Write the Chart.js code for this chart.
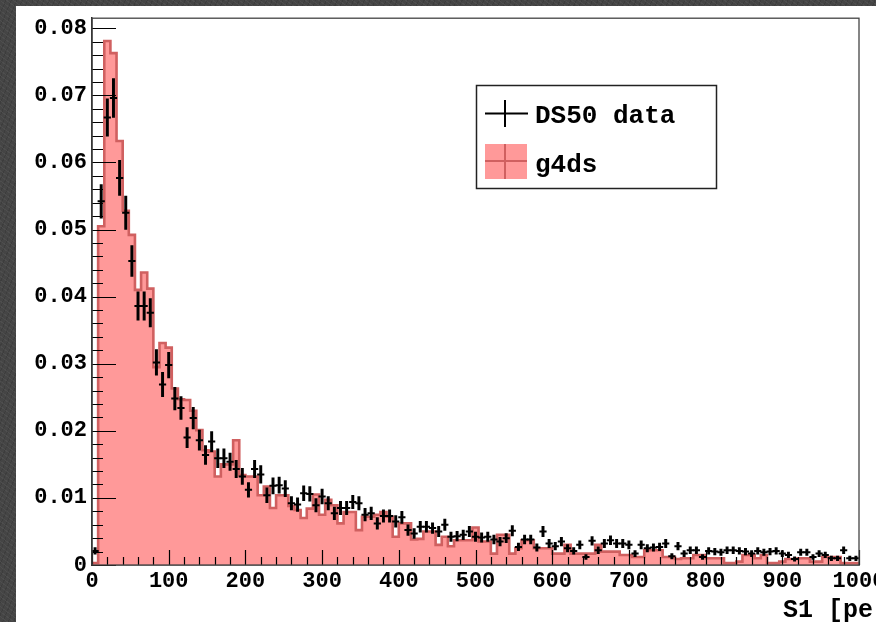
<!DOCTYPE html>
<html><head><meta charset="utf-8">
<script src="https://cdn.jsdelivr.net/npm/chart.js@4.4.1/dist/chart.umd.min.js"></script>
<style>
html,body{margin:0;padding:0;width:876px;height:622px;overflow:hidden;
  background-color:#454545;
  background-image:repeating-linear-gradient(37deg, rgba(255,255,255,0.05) 0 1px, transparent 1px 4px),
                   repeating-linear-gradient(113deg, rgba(0,0,0,0.12) 0 1px, transparent 1px 5px);}
#wrap{position:absolute;left:16px;top:6px;width:900px;height:640px;background:#fff;overflow:hidden;}
#c{position:absolute;left:0;top:-6px;display:block;}
</style></head><body>
<div id="wrap"><canvas id="c" width="900" height="646"></canvas></div>
<script>
// bin edges of the S1 histogram [pe]
const binEdges = [0,8,16,24,32,40,48,56,64,72,80,88,96,104,112,120,128,136,144,152,160,168,176,184,192,200,208,216,224,232,240,248,256,264,272,280,288,296,304,312,320,328,336,344,352,360,368,376,384,392,400,408,416,424,432,440,448,456,464,472,480,488,496,504,512,520,528,536,544,552,560,568,576,584,592,600,608,616,624,632,640,648,656,664,672,680,688,696,704,712,720,728,736,744,752,760,768,776,784,792,800,808,816,824,832,840,848,856,864,872,880,888,896,904,912,920,928,936,944,952,960,968,976,984,992,1000];

// DS50 data (normalised counts per bin)
const ds50Values = [0.0021,0.0542,0.0667,0.0696,0.0577,0.0525,0.0453,0.0386,0.0386,0.0376,
0.0302,0.0269,0.0298,0.0248,0.0234,0.0190,0.0219,0.0186,0.0164,0.0184,
0.0159,0.0159,0.0154,0.0143,0.0132,0.0112,0.0143,0.0135,0.0104,0.0118,
0.0119,0.0114,0.0092,0.0090,0.0107,0.0106,0.0089,0.0102,0.0092,0.0077,
0.0085,0.0085,0.0094,0.0092,0.0075,0.0077,0.0062,0.0073,0.0073,0.0065,
0.0071,0.0052,0.0047,0.0057,0.0057,0.0055,0.0050,0.0060,0.0042,0.0043,
0.0045,0.0050,0.0042,0.0041,0.0042,0.0038,0.0035,0.0040,0.0051,0.0027,
0.0038,0.0038,0.0026,0.0050,0.0032,0.0028,0.0035,0.0025,0.0021,0.0030,
0.0012,0.0036,0.0022,0.0032,0.0037,0.0032,0.0032,0.0030,0.0017,0.0030,
0.0025,0.0026,0.0027,0.0032,0.0013,0.0028,0.0017,0.0022,0.0022,0.0012,
0.0021,0.0020,0.0019,0.0022,0.0022,0.0021,0.0020,0.0017,0.0021,0.0019,
0.0020,0.0021,0.0017,0.0015,0.0009,0.0019,0.0019,0.0012,0.0017,0.0015,
0.0010,0.0010,0.0022,0.0010,0.0010];

// DS50 statistical errors (half length of the vertical bars)
const ds50Errors = [0.0005,0.0025,0.0028,0.0029,0.0026,0.0025,0.0023,0.0021,0.0021,0.0021,
0.0019,0.0018,0.0019,0.0017,0.0017,0.0015,0.0016,0.0015,0.0014,0.0015,
0.0014,0.0014,0.0013,0.0013,0.0012,0.0011,0.0013,0.0013,0.0011,0.0012,
0.0012,0.0012,0.0010,0.0010,0.0011,0.0011,0.0010,0.0011,0.0010,0.00095,
0.0010,0.0010,0.0010,0.0010,0.00094,0.00095,0.00085,0.00092,0.00092,0.00087,
0.0009,0.00078,0.00074,0.00082,0.00082,0.0008,0.00076,0.00084,0.0007,0.0007,
0.00072,0.00076,0.0007,0.00069,0.0007,0.00067,0.00064,0.00068,0.00077,0.00056,
0.00067,0.00067,0.00055,0.00076,0.00061,0.00057,0.00064,0.00054,0.0005,0.00059,
0.00037,0.00065,0.00051,0.00061,0.00066,0.00061,0.00061,0.00059,0.00045,0.00059,
0.00054,0.00055,0.00056,0.00061,0.00039,0.00057,0.00045,0.00051,0.00051,0.00037,
0.0005,0.00048,0.00047,0.00051,0.00051,0.0005,0.00048,0.00045,0.0005,0.00047,
0.00048,0.0005,0.00045,0.00042,0.00032,0.00047,0.00047,0.00037,0.00045,0.00042,
0.00034,0.00034,0.00051,0.00034,0.00034];

// g4ds simulation (normalised counts per bin)
const g4dsValues = [0.0003,0.0505,0.0781,0.0763,0.0632,0.0528,0.0492,0.0410,0.0436,0.0412,
0.0295,0.0331,0.0324,0.0263,0.0247,0.0246,0.0230,0.0201,0.0171,0.0169,
0.0132,0.0150,0.0150,0.0186,0.0134,0.0132,0.0132,0.0104,0.0117,0.0085,
0.0104,0.0104,0.0088,0.0082,0.0070,0.0084,0.0105,0.0075,0.0097,0.0089,
0.0062,0.0079,0.0079,0.0052,0.0072,0.0072,0.0075,0.0079,0.0072,0.0042,
0.0062,0.0062,0.0038,0.0039,0.0050,0.0050,0.0030,0.0042,0.0028,0.0037,
0.0037,0.0037,0.0056,0.0035,0.0035,0.0017,0.0045,0.0045,0.0017,0.0025,
0.0037,0.0037,0.0025,0.0025,0.0025,0.0017,0.0017,0.0030,0.0017,0.0017,
0.0017,0.0017,0.0030,0.0020,0.0020,0.0020,0.0015,0.0015,0.0012,0.0012,
0.0022,0.0022,0.0022,0.0012,0.0012,0.0009,0.0010,0.0010,0.0015,0.0015,
0.0010,0.0010,0.0010,0.0003,0.0003,0.0005,0.0015,0.0015,0.0010,0.0015,
0.0003,0.0003,0.0005,0.0009,0.0009,0.0010,0.0010,0.0005,0.0005,0.0012,
0.0012,0.0012,0.0003,0.0003,0.0003];

const xMajorTicks = [0,100,200,300,400,500,600,700,800,900,1000];
const xMinorTicks = [0,20,40,60,80,100,120,140,160,180,200,220,240,260,280,300,320,340,360,380,400,420,440,460,480,500,520,540,560,580,600,620,640,660,680,700,720,740,760,780,800,820,840,860,880,900,920,940,960,980,1000];
const yMajorTicks = [0,0.01,0.02,0.03,0.04,0.05,0.06,0.07,0.08];
const yTickLabels = ['0','0.01','0.02','0.03','0.04','0.05','0.06','0.07','0.08'];
const yMinorTicks = [0.002,0.004,0.006,0.008,0.012,0.014,0.016,0.018,0.022,0.024,0.026,0.028,0.032,0.034,0.036,0.038,0.042,0.044,0.046,0.048,0.052,0.054,0.056,0.058,0.062,0.064,0.066,0.068,0.072,0.074,0.076,0.078];
const xTitle = 'S1 [pe]';
const legendLabels = ['DS50 data','g4ds'];

const PINK = 'rgb(255,153,153)';
const PINK_LINE = 'rgb(208,96,96)';
const MONO = "'Liberation Mono', 'DejaVu Sans Mono', monospace";

const binCenters = ds50Values.map((_, i) => (binEdges[i] + binEdges[i + 1]) / 2);

// histogram outline: left edge of each bin + closing edges
const histPoints = [{x: binEdges[0], y: 0}];
g4dsValues.forEach((v, i) => histPoints.push({x: binEdges[i], y: v}));
histPoints.push({x: binEdges[binEdges.length - 1], y: 0});

const errBars = binCenters.map((x, i) => ({x, y: [ds50Values[i] - ds50Errors[i], ds50Values[i] + ds50Errors[i]]}));
const dataPoints = binCenters.map((x, i) => ({x, y: ds50Values[i]}));

const rootDecor = {
  id: 'rootDecor',
  afterDatasetsDraw(chart) {
    const {ctx, chartArea: a, scales: {x, y}} = chart;
    ctx.save();
    ctx.strokeStyle = '#000';
    ctx.lineWidth = 1.2;
    ctx.beginPath();
    xMinorTicks.forEach(v => { const px = Math.round(x.getPixelForValue(v)) + 0.5; ctx.moveTo(px, a.bottom); ctx.lineTo(px, a.bottom - 8); });
    xMajorTicks.forEach(v => { const px = Math.round(x.getPixelForValue(v)) + 0.5; ctx.moveTo(px, a.bottom); ctx.lineTo(px, a.bottom - 15); });
    yMinorTicks.forEach(v => { const py = Math.round(y.getPixelForValue(v)) + 0.5; ctx.moveTo(a.left, py); ctx.lineTo(a.left + 11, py); });
    yMajorTicks.forEach(v => { const py = Math.round(y.getPixelForValue(v)) + 0.5; ctx.moveTo(a.left, py); ctx.lineTo(a.left + 24, py); });
    ctx.stroke();
    ctx.restore();
  },
  afterDraw(chart) {
    const {ctx, chartArea: a} = chart;
    ctx.save();
    // frame
    ctx.strokeStyle = '#444';
    ctx.lineWidth = 1.3;
    ctx.strokeRect(a.left, a.top, a.right - a.left, a.bottom - a.top);
    // legend box
    const lx = 460.5, ly = 85.5, lw = 240, lh = 103;
    ctx.fillStyle = '#fff';
    ctx.fillRect(lx, ly, lw, lh);
    ctx.strokeStyle = '#222';
    ctx.lineWidth = 1.5;
    ctx.strokeRect(lx, ly, lw, lh);
    // entry 1: data cross
    ctx.strokeStyle = '#000';
    ctx.lineWidth = 2;
    ctx.beginPath();
    ctx.moveTo(469, 113.5); ctx.lineTo(512, 113.5);
    ctx.moveTo(489, 100); ctx.lineTo(489, 127);
    ctx.stroke();
    // entry 2: filled box with cross
    ctx.fillStyle = PINK;
    ctx.fillRect(469, 144, 42, 35);
    ctx.strokeStyle = PINK_LINE;
    ctx.beginPath();
    ctx.moveTo(469, 161); ctx.lineTo(511, 161);
    ctx.moveTo(489, 144); ctx.lineTo(489, 179);
    ctx.stroke();
    ctx.fillStyle = '#000';
    ctx.font = 'bold 26px ' + MONO;
    ctx.textBaseline = 'alphabetic';
    ctx.fillText(legendLabels[0], 519, 123);
    ctx.fillText(legendLabels[1], 519, 172);
    // axis title
    ctx.font = 'bold 25px ' + MONO;
    ctx.fillText(xTitle, 767, 617);
    ctx.restore();
  }
};

const tickFont = {family: MONO, weight: 'bold', size: 22};

new Chart(document.getElementById('c'), {
  type: 'line',
  data: {
    datasets: [
      {
        type: 'scatter', label: legendLabels[0], data: dataPoints, order: 0,
        showLine: false, pointStyle: 'line', pointRadius: 3.6, pointHoverRadius: 3.6,
        pointBorderWidth: 2, borderColor: '#000', backgroundColor: '#000'
      },
      {
        type: 'bar', label: legendLabels[0] + ' err', data: errBars, order: 1,
        backgroundColor: '#000', borderWidth: 0, barThickness: 2.3, grouped: false
      },
      {
        type: 'line', label: legendLabels[1], data: histPoints, order: 2,
        stepped: 'before', fill: 'origin', backgroundColor: PINK, borderColor: PINK_LINE,
        borderWidth: 2.6, pointRadius: 0, tension: 0
      }
    ]
  },
  options: {
    responsive: false,
    animation: false,
    events: [],
    layout: {autoPadding: false, padding: {left: 0, top: 6, right: 57, bottom: 0}},
    plugins: {legend: {display: false}, tooltip: {enabled: false}},
    scales: {
      x: {
        type: 'linear', min: 0, max: 1000, offset: false,
        grid: {display: false, offset: false, drawTicks: false, tickLength: 0},
        border: {display: true, color: '#222', width: 1.5},
        ticks: {padding: 3, font: tickFont, color: '#000', maxRotation: 0, autoSkip: false,
          callback: (v) => String(v)},
        afterBuildTicks: (s) => { s.ticks = xMajorTicks.map(v => ({value: v})); },
        afterFit: (s) => { s.height = 81; }
      },
      y: {
        type: 'linear', min: 0, max: 0.0815,
        grid: {display: false, drawTicks: false, tickLength: 0},
        border: {display: true, color: '#222', width: 1.5},
        ticks: {padding: 5, font: tickFont, color: '#000', autoSkip: false,
          callback: (v, i) => yTickLabels[i]},
        afterBuildTicks: (s) => { s.ticks = yMajorTicks.map(v => ({value: v})); },
        afterFit: (s) => { s.width = 76; }
      }
    }
  },
  plugins: [rootDecor]
});
</script>
</body></html>
